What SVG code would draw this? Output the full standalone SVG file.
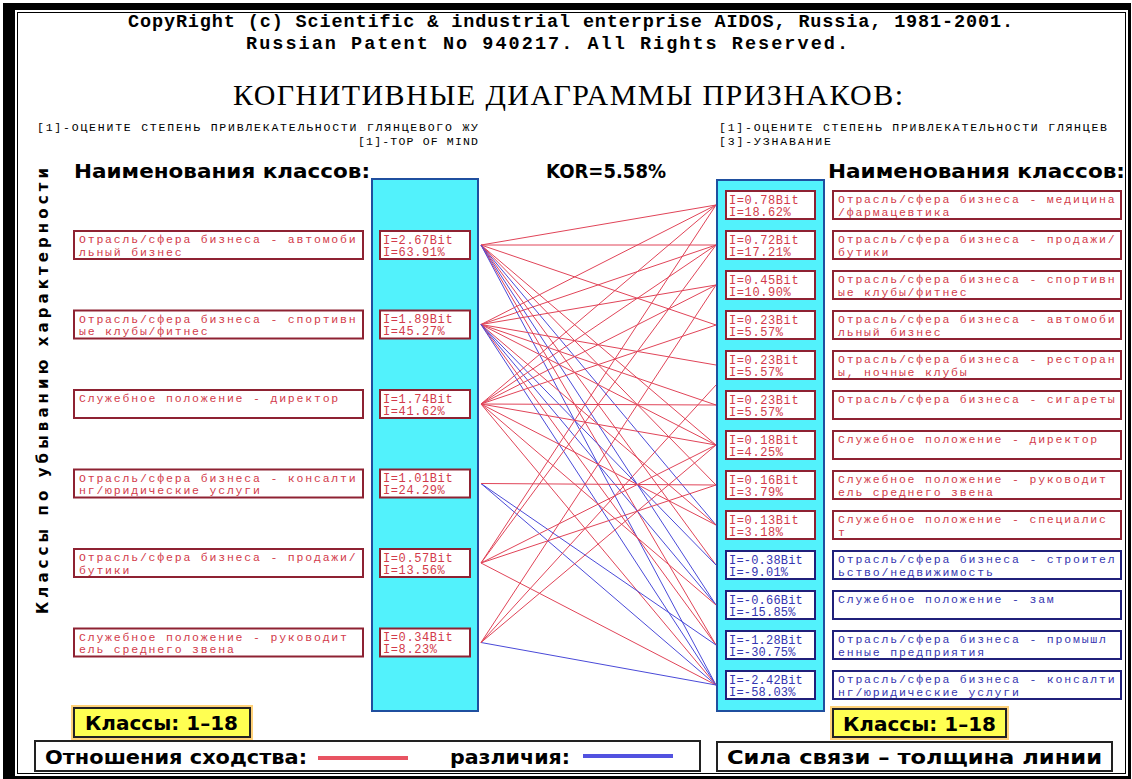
<svg xmlns="http://www.w3.org/2000/svg" width="1132" height="779" viewBox="0 0 1132 779">
<style>
.hdr{font-family:"Liberation Mono",monospace;font-weight:bold;font-size:18.5px;fill:#000}
.ttl{font-family:"Liberation Serif",serif;font-size:30px;fill:#000}
.sub{font-family:"Liberation Mono",monospace;font-size:11.5px;fill:#000}
.big{font-family:"DejaVu Sans",sans-serif;font-weight:bold;font-size:19px;fill:#000}
.vt{font-family:"DejaVu Sans",sans-serif;font-weight:bold;font-size:15px;fill:#000}
.col{fill:#52f2fc;stroke:#1f4f9f;stroke-width:2}
.rb{fill:#fff;stroke:#8e2232;stroke-width:2}
.bb{fill:#fff;stroke:#20207a;stroke-width:2}
.rt{font-family:"Liberation Mono",monospace;font-size:11.5px;letter-spacing:1.8px;fill:#d23a4a}
.bt{font-family:"Liberation Mono",monospace;font-size:11.5px;letter-spacing:1.8px;fill:#3434b0}
.rv{font-family:"Liberation Mono",monospace;font-size:12px;letter-spacing:0.6px;fill:#d23a4a}
.bv{font-family:"Liberation Mono",monospace;font-size:12px;letter-spacing:0.2px;fill:#3434b0}
.yb{fill:#ffff52;stroke:#222;stroke-width:2}
.yg{fill:none;stroke:#ffd27a;stroke-width:6}
.lg{fill:#fff;stroke:#222;stroke-width:2}
.r{stroke:#e04458;stroke-width:1;fill:none}
.b{stroke:#4a4ad8;stroke-width:1;fill:none}
</style>
<rect x="0" y="0" width="1132" height="779" fill="#fff"/>
<g id="frame">
<rect x="3" y="3" width="1128" height="776" fill="#000"/>
<rect x="15" y="10" width="1113" height="766" fill="#fff"/>
<rect x="17.5" y="12.5" width="1108" height="761" fill="none" stroke="#000" stroke-width="1"/>
</g>
<g id="header">
<text class="hdr" x="128" y="27" textLength="885" lengthAdjust="spacing">CopyRight (c) Scientific &amp; industrial enterprise AIDOS, Russia, 1981-2001.</text>
<text class="hdr" x="246" y="49" textLength="602" lengthAdjust="spacing">Russian Patent No 940217. All Rights Reserved.</text>
<text class="ttl" x="233" y="105" textLength="670" lengthAdjust="spacing">КОГНИТИВНЫЕ ДИАГРАММЫ ПРИЗНАКОВ:</text>
<text class="sub" x="37" y="131" textLength="441" lengthAdjust="spacing">[1]-ОЦЕНИТЕ СТЕПЕНЬ ПРИВЛЕКАТЕЛЬНОСТИ ГЛЯНЦЕВОГО ЖУ</text>
<text class="sub" x="358" y="145" textLength="120" lengthAdjust="spacing">[1]-TOP OF MIND</text>
<text class="sub" x="719" y="131" textLength="388" lengthAdjust="spacing">[1]-ОЦЕНИТЕ СТЕПЕНЬ ПРИВЛЕКАТЕЛЬНОСТИ ГЛЯНЦЕВ</text>
<text class="sub" x="719" y="145" textLength="112" lengthAdjust="spacing">[3]-УЗНАВАНИЕ</text>
<text class="big" x="74" y="178" textLength="296" lengthAdjust="spacingAndGlyphs">Наименования классов:</text>
<text class="big" x="828" y="178" textLength="297" lengthAdjust="spacingAndGlyphs">Наименования классов:</text>
<text class="big" x="546" y="178" textLength="120" lengthAdjust="spacingAndGlyphs">KOR=5.58%</text>
<text class="vt" transform="translate(48,614) rotate(-90)" textLength="446" lengthAdjust="spacing">Классы по убыванию характерности</text>
</g>
<g id="columns">
<rect class="col" x="372" y="179" width="106" height="532"/>
<rect class="col" x="717" y="180" width="107" height="531"/>
</g>
<g id="connectors">
<line class="r" x1="481" y1="245" x2="716" y2="205"/>
<line class="r" x1="481" y1="245" x2="716" y2="245"/>
<line class="r" x1="481" y1="245" x2="716" y2="325"/>
<line class="r" x1="481" y1="245" x2="716" y2="445"/>
<line class="r" x1="481" y1="245" x2="716" y2="485"/>
<line class="b" x1="481" y1="245" x2="716" y2="525"/>
<line class="r" x1="481" y1="245" x2="716" y2="565"/>
<line class="b" x1="481" y1="245" x2="716" y2="605"/>
<line class="r" x1="481" y1="245" x2="716" y2="645"/>
<line class="b" x1="481" y1="245" x2="716" y2="685"/>
<line class="r" x1="481" y1="324.5" x2="716" y2="205"/>
<line class="r" x1="481" y1="324.5" x2="716" y2="245"/>
<line class="r" x1="481" y1="324.5" x2="716" y2="285" stroke-width="3"/>
<line class="r" x1="481" y1="324.5" x2="716" y2="365"/>
<line class="r" x1="481" y1="324.5" x2="716" y2="405"/>
<line class="r" x1="481" y1="324.5" x2="716" y2="445"/>
<line class="r" x1="481" y1="324.5" x2="716" y2="525"/>
<line class="b" x1="481" y1="324.5" x2="716" y2="565"/>
<line class="b" x1="481" y1="324.5" x2="716" y2="605"/>
<line class="r" x1="481" y1="324.5" x2="716" y2="645"/>
<line class="b" x1="481" y1="324.5" x2="716" y2="685"/>
<line class="r" x1="481" y1="404" x2="716" y2="205"/>
<line class="r" x1="481" y1="404" x2="716" y2="245"/>
<line class="r" x1="481" y1="404" x2="716" y2="285"/>
<line class="r" x1="481" y1="404" x2="716" y2="325"/>
<line class="r" x1="481" y1="404" x2="716" y2="405"/>
<line class="r" x1="481" y1="404" x2="716" y2="445"/>
<line class="r" x1="481" y1="404" x2="716" y2="525"/>
<line class="r" x1="481" y1="404" x2="716" y2="605"/>
<line class="r" x1="481" y1="404" x2="716" y2="685"/>
<line class="b" x1="481" y1="483.5" x2="716" y2="685" stroke-width="5"/>
<line class="b" x1="481" y1="483.5" x2="716" y2="645"/>
<line class="r" x1="481" y1="483.5" x2="716" y2="485"/>
<line class="r" x1="481" y1="563" x2="716" y2="205"/>
<line class="r" x1="481" y1="563" x2="716" y2="445"/>
<line class="r" x1="481" y1="563" x2="716" y2="485"/>
<line class="r" x1="481" y1="563" x2="716" y2="245"/>
<line class="r" x1="481" y1="563" x2="716" y2="685"/>
<line class="b" x1="481" y1="642.5" x2="716" y2="685" stroke-width="1.5"/>
<line class="r" x1="481" y1="642.5" x2="716" y2="385"/>
<line class="r" x1="481" y1="642.5" x2="716" y2="445"/>
<line class="r" x1="481" y1="642.5" x2="716" y2="285"/>
</g>
<g id="left1"><rect class="rb" x="74" y="231" width="289" height="28"/><text class="rt" x="79" y="243">Отрасль/сфера бизнеса - автомоби</text><text class="rt" x="79" y="255.5">льный бизнес</text><rect class="rb" x="380" y="231" width="90" height="28"/><text class="rv" x="383" y="243.5">I=2.67Bit</text><text class="rv" x="383" y="255.5">I=63.91%</text></g>
<g id="left2"><rect class="rb" x="74" y="310.5" width="289" height="28"/><text class="rt" x="79" y="322.5">Отрасль/сфера бизнеса - спортивн</text><text class="rt" x="79" y="335">ые клубы/фитнес</text><rect class="rb" x="380" y="310.5" width="90" height="28"/><text class="rv" x="383" y="323">I=1.89Bit</text><text class="rv" x="383" y="335">I=45.27%</text></g>
<g id="left3"><rect class="rb" x="74" y="390" width="289" height="28"/><text class="rt" x="79" y="402">Служебное положение - директор</text><rect class="rb" x="380" y="390" width="90" height="28"/><text class="rv" x="383" y="402.5">I=1.74Bit</text><text class="rv" x="383" y="414.5">I=41.62%</text></g>
<g id="left4"><rect class="rb" x="74" y="469.5" width="289" height="28"/><text class="rt" x="79" y="481.5">Отрасль/сфера бизнеса - консалти</text><text class="rt" x="79" y="494">нг/юридические услуги</text><rect class="rb" x="380" y="469.5" width="90" height="28"/><text class="rv" x="383" y="482">I=1.01Bit</text><text class="rv" x="383" y="494">I=24.29%</text></g>
<g id="left5"><rect class="rb" x="74" y="549" width="289" height="28"/><text class="rt" x="79" y="561">Отрасль/сфера бизнеса - продажи/</text><text class="rt" x="79" y="573.5">бутики</text><rect class="rb" x="380" y="549" width="90" height="28"/><text class="rv" x="383" y="561.5">I=0.57Bit</text><text class="rv" x="383" y="573.5">I=13.56%</text></g>
<g id="left6"><rect class="rb" x="74" y="628.5" width="289" height="28"/><text class="rt" x="79" y="640.5">Служебное положение - руководит</text><text class="rt" x="79" y="653">ель среднего звена</text><rect class="rb" x="380" y="628.5" width="90" height="28"/><text class="rv" x="383" y="641">I=0.34Bit</text><text class="rv" x="383" y="653">I=8.23%</text></g>
<g id="right1"><rect class="rb" x="726" y="191" width="89" height="28"/><text class="rv" x="729" y="203.5">I=0.78Bit</text><text class="rv" x="729" y="215.5">I=18.62%</text><rect class="rb" x="833" y="191" width="288" height="28"/><text class="rt" x="838" y="203">Отрасль/сфера бизнеса - медицина</text><text class="rt" x="838" y="215.5">/фармацевтика</text></g>
<g id="right2"><rect class="rb" x="726" y="231" width="89" height="28"/><text class="rv" x="729" y="243.5">I=0.72Bit</text><text class="rv" x="729" y="255.5">I=17.21%</text><rect class="rb" x="833" y="231" width="288" height="28"/><text class="rt" x="838" y="243">Отрасль/сфера бизнеса - продажи/</text><text class="rt" x="838" y="255.5">бутики</text></g>
<g id="right3"><rect class="rb" x="726" y="271" width="89" height="28"/><text class="rv" x="729" y="283.5">I=0.45Bit</text><text class="rv" x="729" y="295.5">I=10.90%</text><rect class="rb" x="833" y="271" width="288" height="28"/><text class="rt" x="838" y="283">Отрасль/сфера бизнеса - спортивн</text><text class="rt" x="838" y="295.5">ые клубы/фитнес</text></g>
<g id="right4"><rect class="rb" x="726" y="311" width="89" height="28"/><text class="rv" x="729" y="323.5">I=0.23Bit</text><text class="rv" x="729" y="335.5">I=5.57%</text><rect class="rb" x="833" y="311" width="288" height="28"/><text class="rt" x="838" y="323">Отрасль/сфера бизнеса - автомоби</text><text class="rt" x="838" y="335.5">льный бизнес</text></g>
<g id="right5"><rect class="rb" x="726" y="351" width="89" height="28"/><text class="rv" x="729" y="363.5">I=0.23Bit</text><text class="rv" x="729" y="375.5">I=5.57%</text><rect class="rb" x="833" y="351" width="288" height="28"/><text class="rt" x="838" y="363">Отрасль/сфера бизнеса - ресторан</text><text class="rt" x="838" y="375.5">ы, ночные клубы</text></g>
<g id="right6"><rect class="rb" x="726" y="391" width="89" height="28"/><text class="rv" x="729" y="403.5">I=0.23Bit</text><text class="rv" x="729" y="415.5">I=5.57%</text><rect class="rb" x="833" y="391" width="288" height="28"/><text class="rt" x="838" y="403">Отрасль/сфера бизнеса - сигареты</text></g>
<g id="right7"><rect class="rb" x="726" y="431" width="89" height="28"/><text class="rv" x="729" y="443.5">I=0.18Bit</text><text class="rv" x="729" y="455.5">I=4.25%</text><rect class="rb" x="833" y="431" width="288" height="28"/><text class="rt" x="838" y="443">Служебное положение - директор</text></g>
<g id="right8"><rect class="rb" x="726" y="471" width="89" height="28"/><text class="rv" x="729" y="483.5">I=0.16Bit</text><text class="rv" x="729" y="495.5">I=3.79%</text><rect class="rb" x="833" y="471" width="288" height="28"/><text class="rt" x="838" y="483">Служебное положение - руководит</text><text class="rt" x="838" y="495.5">ель среднего звена</text></g>
<g id="right9"><rect class="rb" x="726" y="511" width="89" height="28"/><text class="rv" x="729" y="523.5">I=0.13Bit</text><text class="rv" x="729" y="535.5">I=3.18%</text><rect class="rb" x="833" y="511" width="288" height="28"/><text class="rt" x="838" y="523">Служебное положение - специалис</text><text class="rt" x="838" y="535.5">т</text></g>
<g id="right10"><rect class="bb" x="726" y="551" width="89" height="28"/><text class="bv" x="729" y="563.5">I=-0.38Bit</text><text class="bv" x="729" y="575.5">I=-9.01%</text><rect class="bb" x="833" y="551" width="288" height="28"/><text class="bt" x="838" y="563">Отрасль/сфера бизнеса - строител</text><text class="bt" x="838" y="575.5">ьство/недвижимость</text></g>
<g id="right11"><rect class="bb" x="726" y="591" width="89" height="28"/><text class="bv" x="729" y="603.5">I=-0.66Bit</text><text class="bv" x="729" y="615.5">I=-15.85%</text><rect class="bb" x="833" y="591" width="288" height="28"/><text class="bt" x="838" y="603">Служебное положение - зам</text></g>
<g id="right12"><rect class="bb" x="726" y="631" width="89" height="28"/><text class="bv" x="729" y="643.5">I=-1.28Bit</text><text class="bv" x="729" y="655.5">I=-30.75%</text><rect class="bb" x="833" y="631" width="288" height="28"/><text class="bt" x="838" y="643">Отрасль/сфера бизнеса - промышл</text><text class="bt" x="838" y="655.5">енные предприятия</text></g>
<g id="right13"><rect class="bb" x="726" y="671" width="89" height="28"/><text class="bv" x="729" y="683.5">I=-2.42Bit</text><text class="bv" x="729" y="695.5">I=-58.03%</text><rect class="bb" x="833" y="671" width="288" height="28"/><text class="bt" x="838" y="683">Отрасль/сфера бизнеса - консалти</text><text class="bt" x="838" y="695.5">нг/юридические услуги</text></g>
<g id="classes-left"><rect class="yg" x="74" y="708" width="176" height="29"/><rect class="yb" x="74" y="708" width="176" height="29"/><text class="big" x="85" y="730" textLength="153" lengthAdjust="spacingAndGlyphs">Классы: 1–18</text></g>
<g id="classes-right"><rect class="yg" x="833" y="709" width="173" height="28"/><rect class="yb" x="833" y="709" width="173" height="28"/><text class="big" x="843" y="731" textLength="153" lengthAdjust="spacingAndGlyphs">Классы: 1–18</text></g>
<g id="legend-left"><rect class="lg" x="35" y="741" width="665" height="30"/><text class="big" x="45" y="764" textLength="262" lengthAdjust="spacingAndGlyphs">Отношения сходства:</text><line x1="318" y1="758" x2="408" y2="758" stroke="#e85462" stroke-width="4"/><text class="big" x="450" y="764" textLength="120" lengthAdjust="spacingAndGlyphs">различия:</text><line x1="583" y1="756" x2="673" y2="756" stroke="#5252e0" stroke-width="4"/></g>
<g id="legend-right"><rect class="lg" x="717" y="742" width="395" height="29"/><text class="big" x="727" y="764" textLength="375" lengthAdjust="spacingAndGlyphs">Сила связи – толщина линии</text></g>
</svg>
